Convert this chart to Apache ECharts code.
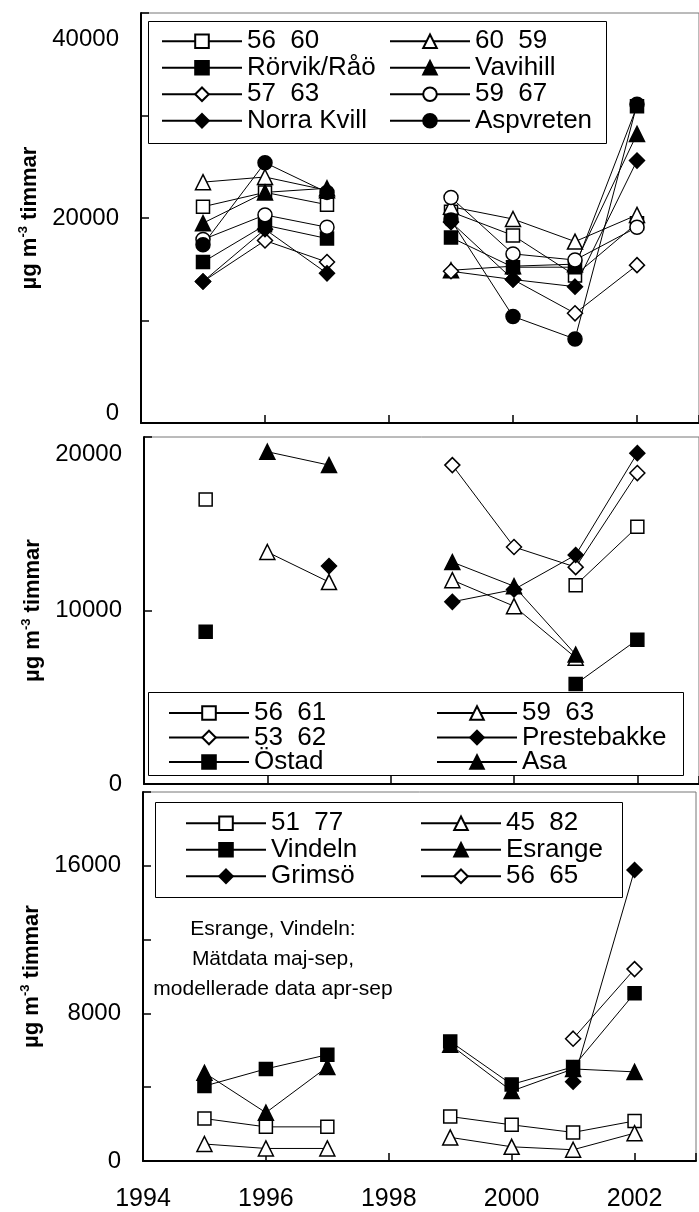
<!DOCTYPE html>
<html><head><meta charset="utf-8">
<script src="https://cdn.jsdelivr.net/npm/echarts@6/dist/echarts.min.js"></script>
<style>html,body{margin:0;padding:0;background:#fff}#c{width:699px;height:1212px}</style>
</head><body><div id="c"></div>
<script>
// ---------- data ----------
const years = [1995, 1996, 1997, 1998, 1999, 2000, 2001, 2002];
const xTickYears = [1994, 1996, 1998, 2000, 2002];

// Panel 1
const p1_5660      = [21100, 22500, 21300, null, 20600, 18300, 14400, 19500];
const p1_6059      = [23500, 24000, 22700, null, 21100, 19900, 17700, 20300];
const p1_rorvik    = [15700, 19300, 18000, null, 18100, 15200, 15200, 30900];
const p1_vavihill  = [19500, 22500, 22900, null, 14900, 15300, 15500, 28200];
const p1_5763      = [13800, 17800, 15700, null, 14800, 14000, 10700, 15400];
const p1_5967      = [17900, 20300, 19100, null, 22000, 16500, 15900, 19100];
const p1_norrakvill= [13800, 18900, 14600, null, 19600, 14000, 13300, 25600];
const p1_aspvreten = [17400, 25400, 22500, null, 19800, 10400, 8200, 31100];
const p1Ticks = [0, 20000, 40000];

// Panel 2
const p2_5661       = [16400, null, null, null, null, null, 11460, 14820];
const p2_5963       = [null, 13370, 11640, null, 11750, 10250, 7280, null];
const p2_5362       = [null, null, null, null, 18380, 13660, 12500, 17920];
const p2_prestebakke= [null, null, 12560, null, 10500, 11210, 13200, 19070];
const p2_ostad      = [8770, null, null, null, null, null, 5760, 8320];
const p2_asa        = [null, 19150, 18380, null, 12790, 11400, 7460, null];
const p2Ticks = [0, 10000, 20000];

// Panel 3
const p3_5177   = [2300, 1850, 1850, null, 2410, 1960, 1550, 2170];
const p3_4582   = [920, 680, 680, null, 1280, 770, 610, 1510];
const p3_vindeln= [4060, 4990, 5760, null, 6480, 4150, 5100, 9090];
const p3_esrange= [4780, 2620, 5100, null, 6300, 3790, 4990, 4830];
const p3_grimso = [null, null, null, null, null, null, 4300, 15770];
const p3_5665   = [null, null, null, null, null, null, 6630, 10400];
const p3Ticks = [0, 8000, 16000];

const annotation = ['Esrange, Vindeln:', 'Mätdata maj-sep,', 'modellerade data apr-sep'];

// ---------- chart ----------
const FONT = 'Liberation Sans, Arial, sans-serif';
const SHAPES = {
  square: {symbol: 'rect', size: 13},
  triangle: {symbol: 'triangle', size: 15},
  diamond: {symbol: 'diamond', size: 15},
  circle: {symbol: 'circle', size: 14}
};
function mk(name, vals, shape, filled, gi) {
  const s = SHAPES[shape];
  return {
    type: 'line', name, xAxisIndex: gi, yAxisIndex: gi,
    data: years.map((y, i) => [y, vals[i]]),
    symbol: s.symbol, symbolSize: s.size, showSymbol: true, showAllSymbol: true,
    connectNulls: false,
    lineStyle: {color: '#000', width: 1},
    itemStyle: {color: filled ? '#000' : '#fff', borderColor: '#000', borderWidth: 1.5},
    emphasis: {disabled: true}, animation: false
  };
}
const series = [
  mk('56  60', p1_5660, 'square', false, 0),
  mk('60  59', p1_6059, 'triangle', false, 0),
  mk('Rörvik/Råö', p1_rorvik, 'square', true, 0),
  mk('Vavihill', p1_vavihill, 'triangle', true, 0),
  mk('57  63', p1_5763, 'diamond', false, 0),
  mk('59  67', p1_5967, 'circle', false, 0),
  mk('Norra Kvill', p1_norrakvill, 'diamond', true, 0),
  mk('Aspvreten', p1_aspvreten, 'circle', true, 0),

  mk('56  61', p2_5661, 'square', false, 1),
  mk('59  63', p2_5963, 'triangle', false, 1),
  mk('53  62', p2_5362, 'diamond', false, 1),
  mk('Prestebakke', p2_prestebakke, 'diamond', true, 1),
  mk('Östad', p2_ostad, 'square', true, 1),
  mk('Asa', p2_asa, 'triangle', true, 1),

  mk('51  77', p3_5177, 'square', false, 2),
  mk('45  82', p3_4582, 'triangle', false, 2),
  mk('Vindeln', p3_vindeln, 'square', true, 2),
  mk('Esrange', p3_esrange, 'triangle', true, 2),
  mk('Grimsö', p3_grimso, 'diamond', true, 2),
  mk('56  65', p3_5665, 'diamond', false, 2)
];

const grids = [
  {left: 141, top: 13, right: -10, height: 410},
  {left: 144, top: 437, right: -10, height: 347},
  {left: 143, top: 792, right: -10, height: 370}
].map(g => Object.assign(g, {show: true, borderColor: '#777', borderWidth: 1, containLabel: false}));

function xAx(gi, showLabels) {
  return {
    type: 'value', gridIndex: gi, min: 1994, max: 2003, interval: 2,
    axisLine: {lineStyle: {color: '#000', width: 2}},
    axisTick: {inside: true, length: 8, lineStyle: {color: '#000', width: 1.5}},
    splitLine: {show: false},
    axisLabel: {
      show: showLabels, margin: 26, fontSize: 25, fontFamily: FONT, color: '#000',
      formatter: v => xTickYears.indexOf(v) >= 0 ? String(v) : ''
    }
  };
}
const nameRich = {
  a: {fontSize: 22, fontWeight: 'bold', fontFamily: FONT, color: '#000', lineHeight: 26},
  b: {fontSize: 13, fontWeight: 'bold', fontFamily: FONT, color: '#000', verticalAlign: 'top', lineHeight: 13}
};
function yAx(gi, max, interval, ticks, shifts) {
  const rich = {};
  Object.keys(shifts).forEach(k => {
    const d = shifts[k];
    rich['s' + k] = {fontSize: 24, fontFamily: FONT, color: '#000',
      padding: d > 0 ? [2 * d, 0, 0, 0] : [0, 0, -2 * d, 0]};
  });
  return {
    type: 'value', gridIndex: gi, min: 0, max, interval,
    name: '{a|µg m}{b|-3}{a| timmar}', nameLocation: 'middle', nameGap: 94,
    nameTextStyle: {rich: nameRich},
    axisLine: {show: true, lineStyle: {color: '#000', width: 2}},
    axisTick: {show: true, inside: true, length: 8, lineStyle: {color: '#000', width: 1.5}},
    splitLine: {show: false},
    axisLabel: {
      margin: 22, fontSize: 24, fontFamily: FONT, color: '#000', rich,
      formatter: v => {
        if (ticks.indexOf(v) < 0) return '';
        if (shifts[v] !== undefined) return '{s' + v + '|' + v + '}';
        return String(v);
      }
    }
  };
}

function leg(data, left, top, lh, gap) {
  return {
    data, orient: 'vertical', left, top, padding: 0, itemGap: gap || 0,
    itemWidth: 80, itemHeight: 17, selectedMode: false,
    textStyle: {fontSize: 26, fontFamily: FONT, color: '#000', lineHeight: lh}
  };
}

const option = {
  animation: false,
  backgroundColor: '#fff',
  grid: grids,
  xAxis: [xAx(0, false), xAx(1, false), xAx(2, true)],
  yAxis: [
    yAx(0, 40000, 10000, p1Ticks, {40000: 26, 0: -10}),
    yAx(1, 20000, 10000, p2Ticks, {20000: 17}),
    yAx(2, 20000, 4000, p3Ticks, {})
  ],
  legend: [
    leg(['56  60', 'Rörvik/Råö', '57  63', 'Norra Kvill'], 161, 28, 26.5),
    leg(['60  59', 'Vavihill', '59  67', 'Aspvreten'], 389, 28, 26.5),
    leg(['56  61', '53  62', 'Östad'], 168, 700, 24, -1.5),
    leg(['59  63', 'Prestebakke', 'Asa'], 436, 700, 24, -1.5),
    leg(['51  77', 'Vindeln', 'Grimsö'], 185, 810, 26.5),
    leg(['45  82', 'Esrange', '56  65'], 420, 810, 26.5)
  ],
  graphic: [
    {type: 'rect', shape: {x: 148.5, y: 21.5, width: 458, height: 122}, style: {fill: 'none', stroke: '#000', lineWidth: 1}},
    {type: 'rect', shape: {x: 148.5, y: 692.5, width: 535, height: 83}, style: {fill: 'none', stroke: '#000', lineWidth: 1}},
    {type: 'rect', shape: {x: 155.5, y: 802.5, width: 467, height: 95}, style: {fill: 'none', stroke: '#000', lineWidth: 1}},
    {type: 'text', x: 273, y: 914, style: {text: annotation.join('\n'), fontSize: 21, fontFamily: FONT, fill: '#000', textAlign: 'center', lineHeight: 30}}
  ],
  series
};
const chart = echarts.init(document.getElementById('c'), null, {renderer: 'canvas'});
chart.setOption(option);
</script>
</body></html>
